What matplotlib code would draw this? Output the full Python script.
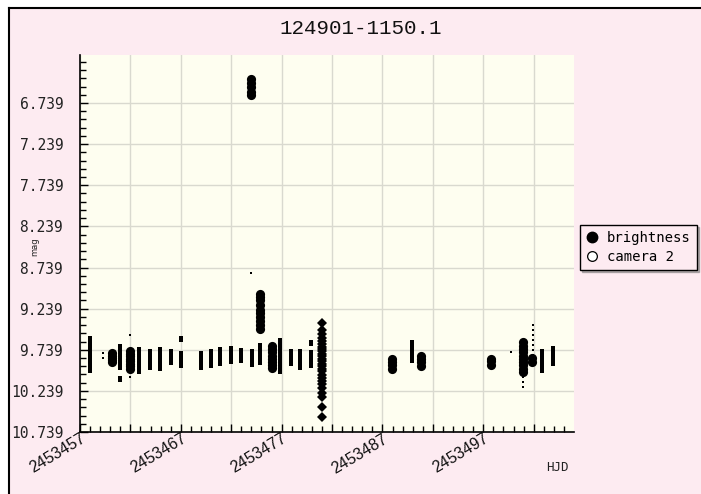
import numpy as np
import matplotlib
matplotlib.use('Agg')
import matplotlib.pyplot as plt
from matplotlib.ticker import FixedLocator, FuncFormatter
from matplotlib.patches import Rectangle
from matplotlib.lines import Line2D
from matplotlib.transforms import ScaledTranslation

title = '124901-1150.1'
t0 = 2453457

# nights: day offset from t0, magnitudes, grade per night (A big, B mid, C small, D diamond)
night_day = [0.99, 2.28, 3.18, 3.97, 4.96, 4.96, 5.86, 6.95, 7.94, 9.03, 10.02,
             12.01, 13.00, 13.90, 14.99, 15.98, 16.97, 16.97, 17.07, 17.87, 17.87,
             19.06, 19.85, 20.94, 21.84, 22.93, 24.02,
             30.97, 32.95, 33.85, 40.79, 42.78, 43.97, 43.97, 44.96, 44.86, 45.86, 46.95]
night_mags = [
    [9.61, 9.67, 9.70, 9.75, 9.77, 9.83, 9.85, 9.91, 9.96, 9.99],
    [9.78, 9.84],
    [9.78, 9.81, 9.84, 9.86, 9.89],
    [9.71, 9.76, 9.80, 9.85, 9.90, 9.95, 10.10],
    [9.75, 9.79, 9.82, 9.85, 9.88, 9.91, 9.94, 9.97],
    [9.56, 10.07],
    [9.74, 9.79, 9.84, 9.88, 9.93, 10.00],
    [9.77, 9.82, 9.86, 9.91, 9.95],
    [9.74, 9.79, 9.85, 9.90, 9.96],
    [9.77, 9.81, 9.85, 9.89],
    [9.79, 9.84, 9.88, 9.93, 9.61],
    [9.79, 9.84, 9.89, 9.95],
    [9.77, 9.82, 9.87, 9.93],
    [9.74, 9.79, 9.84, 9.90],
    [9.73, 9.77, 9.82, 9.87],
    [9.75, 9.79, 9.83, 9.86],
    [6.45, 6.50, 6.55, 6.60, 6.64],
    [8.81],
    [9.77, 9.81, 9.86, 9.91],
    [9.06, 9.10, 9.14, 9.19, 9.25, 9.29, 9.34, 9.39, 9.44, 9.49],
    [9.69, 9.74, 9.79, 9.84, 9.89],
    [9.69, 9.73, 9.77, 9.81, 9.85, 9.89, 9.93, 9.96],
    [9.63, 9.68, 9.74, 9.80, 9.86, 9.92, 10.00],
    [9.77, 9.81, 9.85, 9.90],
    [9.77, 9.82, 9.87, 9.91, 9.95],
    [9.66, 9.78, 9.83, 9.88, 9.93],
    [9.41, 9.50, 9.55, 9.60, 9.63, 9.67, 9.70, 9.73, 9.76, 9.79, 9.82, 9.85,
     9.88, 9.91, 9.94, 9.97, 10.00, 10.04, 10.08, 10.12, 10.16, 10.21, 10.27,
     10.31, 10.44, 10.56],
    [9.85, 9.89, 9.93, 9.97],
    [9.66, 9.71, 9.76, 9.81, 9.86],
    [9.81, 9.85, 9.89, 9.94],
    [9.85, 9.88, 9.92],
    [9.77],
    [9.65, 9.69, 9.73, 9.77, 9.81, 9.85, 9.89, 9.93, 9.97, 10.01],
    [10.07, 10.13, 10.19],
    [9.44, 9.50, 9.56, 9.62, 9.68, 9.74, 9.80, 9.86],
    [9.84, 9.89],
    [9.77, 9.82, 9.87, 9.93, 9.99],
    [9.73, 9.78, 9.84, 9.90],
]
night_grade = ['B', 'C', 'A', 'B', 'A', 'C', 'B', 'B', 'B', 'B', 'B',
               'B', 'B', 'B', 'B', 'B', 'A', 'C', 'B', 'A', 'B',
               'A', 'B', 'B', 'B', 'B', 'D',
               'A', 'B', 'A', 'A', 'C', 'A', 'C', 'C', 'A', 'B', 'B']

legend_labels = ['brightness', 'camera 2']
y_ticks = [6.739, 7.239, 7.739, 8.239, 8.739, 9.239, 9.739, 10.239, 10.739]

W, H = 701, 494
pink = '#fdebf1'
fig = plt.figure(figsize=(W / 100, H / 100), dpi=100, facecolor='white')

# pink panel with black top / left edges
fig.patches.append(Rectangle((9 / W, -0.1), 1.2, 1.1 - 8 / H, transform=fig.transFigure,
                             facecolor=pink, edgecolor='none', zorder=-10))
fig.lines.append(Line2D([9 / W, 1], [1 - 8 / H, 1 - 8 / H], transform=fig.transFigure,
                        color='black', lw=1.5))
fig.lines.append(Line2D([9 / W, 9 / W], [0, 1 - 8 / H], transform=fig.transFigure,
                        color='black', lw=1.5))

ax = fig.add_axes([80 / W, 1 - 432 / H, (574 - 80) / W, (432 - 55) / H])
ax.set_facecolor('#fefef0')

dash = [(-0.55, -1), (0.55, -1), (0.55, 1), (-0.55, 1), (-0.55, -1)]   # vertical dash
style = {'A': ('o', 6.6), 'B': (dash, 5.0), 'C': ('s', 1.6), 'D': ('D', 4.6)}
for d, mags, g in zip(night_day, night_mags, night_grade):
    m, ms = style[g]
    ax.plot([t0 + d] * len(mags), mags, linestyle='none', marker=m, ms=ms,
            color='black', mec='black', mew=0, zorder=3)

ax.set_xlim(t0, 2453506)
ax.set_ylim(10.739, 6.155)

ax.yaxis.set_major_locator(FixedLocator(y_ticks))
ax.yaxis.set_minor_locator(FixedLocator(np.arange(6.239, 10.74, 0.1)))
ax.yaxis.set_major_formatter(FuncFormatter(lambda v, p: '%.3f' % v))
ax.xaxis.set_major_locator(FixedLocator(np.arange(t0, 2453506, 5)))
ax.xaxis.set_minor_locator(FixedLocator(np.arange(t0, 2453506, 1)))
ax.xaxis.set_major_formatter(FuncFormatter(
    lambda v, p: '%d' % round(v) if round(v - t0) % 10 == 0 else ''))

ax.grid(True, which='major', color='#d9d9cf', lw=1)
for s in ['top', 'right']:
    ax.spines[s].set_visible(False)
ax.spines['left'].set_linewidth(1.2)
ax.spines['bottom'].set_linewidth(1.2)

ax.tick_params(axis='both', which='major', direction='in', length=6, width=1, color='black')
ax.tick_params(axis='both', which='minor', direction='in', length=4.5, width=1, color='black')
ax.tick_params(axis='y', which='major', pad=12)
ax.tick_params(axis='x', which='major', pad=4)

for lab in ax.get_yticklabels():
    lab.set_fontfamily('DejaVu Sans Mono')
    lab.set_fontsize(10.5)
    lab.set_color('#222222')
shift = ScaledTranslation(4 / 100, 0, fig.dpi_scale_trans)
for lab in ax.get_xticklabels():
    lab.set_fontfamily('Liberation Sans')
    lab.set_fontsize(11.5)
    lab.set_color('#111111')
    lab.set_rotation(31)
    lab.set_ha('right')
    lab.set_va('center')
    lab.set_rotation_mode('anchor')
    lab.set_transform(lab.get_transform() + shift)

fig.text(361 / W, 1 - 28 / H, title, ha='center', va='center',
         family='Liberation Mono', fontsize=15, color='#111111')
fig.text(557 / W, 1 - 467 / H, 'HJD', ha='center', va='center',
         family='DejaVu Sans Mono', fontsize=9, color='#222222')
fig.text(35 / W, 1 - 247 / H, 'mag', ha='center', va='center', rotation=90,
         family='DejaVu Sans', fontsize=6, color='#222222')

handles = [Line2D([], [], ls='none', marker='o', ms=7.5, color='black'),
           Line2D([], [], ls='none', marker='o', ms=7, mfc='white', mec='black', mew=0.9)]
leg = fig.legend(handles, legend_labels, loc='upper left',
                 bbox_to_anchor=(580 / W, 1 - 225 / H), frameon=True, fancybox=False,
                 shadow={'ox': 1.5, 'oy': -1.5, 'color': '0.45'},
                 prop={'family': 'DejaVu Sans Mono', 'size': 10},
                 handlelength=0.8, handletextpad=0.7, borderpad=0.45, labelspacing=0.35,
                 borderaxespad=0)
leg.get_frame().set_edgecolor('black')
leg.get_frame().set_linewidth(1)
leg.get_frame().set_facecolor(pink)

fig.savefig('out.png', dpi=100, facecolor='white')
